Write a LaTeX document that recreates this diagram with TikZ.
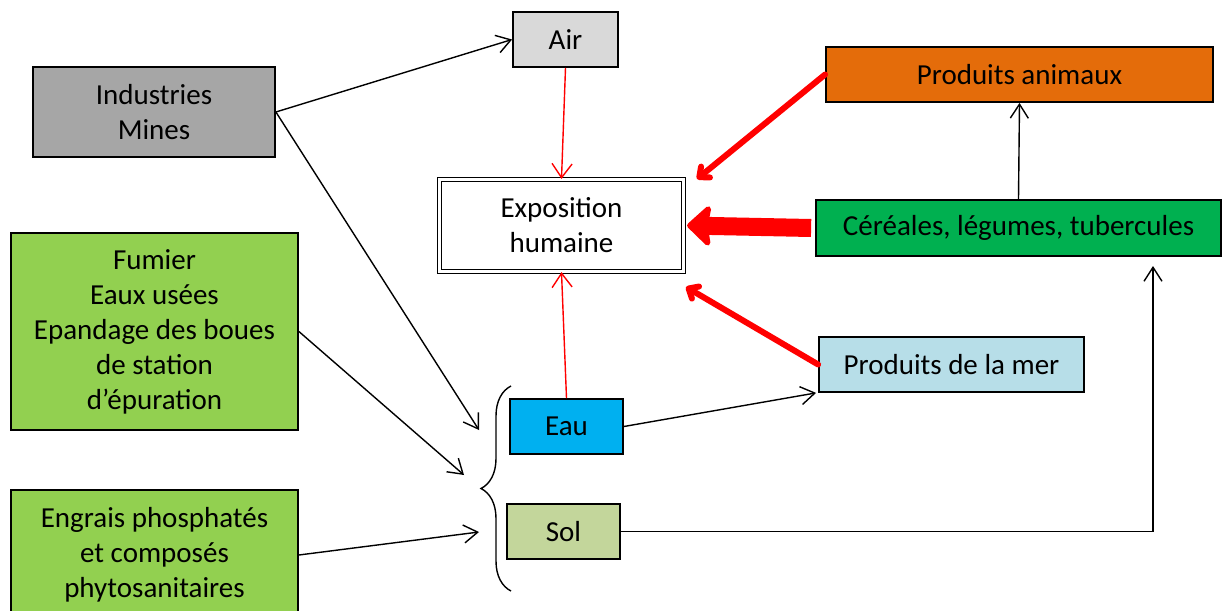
\documentclass[tikz,border=0pt]{standalone}
\usepackage{fontspec}
\setmainfont{Carlito}
\usetikzlibrary{arrows.meta,decorations.pathreplacing}

\definecolor{gris}{HTML}{A6A6A6}
\definecolor{grisclair}{HTML}{D9D9D9}
\definecolor{orange}{HTML}{E46C0A}
\definecolor{vert}{HTML}{00B050}
\definecolor{vertclair}{HTML}{92D050}
\definecolor{bleumer}{HTML}{B7DEE8}
\definecolor{bleu}{HTML}{00B0F0}
\definecolor{olive}{HTML}{C3D69B}
\definecolor{rouge}{HTML}{FF0000}

\tikzset{
  boite/.style={draw, line width=0.9pt, align=center, inner sep=0pt,
    font=\fontsize{14.5}{17.5}\selectfont},
  fleche/.style={line width=0.7pt, -{Straight Barb[length=7pt,width=9pt]}},
  rouge fin/.style={rouge, line width=0.7pt, -{Straight Barb[length=7pt,width=10pt]}},
  rouge gros/.style={rouge, line width=3pt, line cap=round,
    -{Straight Barb[length=4pt,width=7pt,round]}},
  rouge large/.style={rouge, line width=9pt,
    -{Stealth[length=13pt,width=24pt,inset=2pt,round]}}
}

\begin{document}
\begin{tikzpicture}[x=0.5pt, y=-0.5pt]
\useasboundingbox (0,0) rectangle (1222,611);

\node[boite, fill=grisclair, minimum width=52.5pt, minimum height=27.5pt] (air) at (565.5,39.5) {Air};
\node[boite, fill=gris, minimum width=121pt, minimum height=45pt] (industrie) at (154,112) {Industries\\Mines};
\node[boite, fill=orange, minimum width=193.5pt, minimum height=27.5pt] (animaux) at (1019.5,74.5) {Produits animaux};
\node[boite, double, double distance=1.2pt, line width=0.6pt, minimum width=122pt, minimum height=46pt] (expo) at (561.5,225.5) {Exposition\\humaine};
\node[boite, fill=vert, minimum width=202.5pt, minimum height=28pt] (cereales) at (1018.5,228) {Céréales, légumes, tubercules};
\node[boite, fill=vertclair, minimum width=143.5pt, minimum height=98.5pt] (fumier) at (154.5,331.5) {Fumier\\Eaux usées\\Epandage des boues\\de station\\d’épuration};
\node[boite, fill=bleumer, minimum width=132.5pt, minimum height=27.5pt] (mer) at (951.5,364.5) {Produits de la mer};
\node[boite, fill=bleu, minimum width=56.5pt, minimum height=27.5pt] (eau) at (566.5,426.5) {Eau};
\node[boite, fill=olive, minimum width=56.5pt, minimum height=27.5pt] (sol) at (563.5,531.5) {Sol};
\node[boite, fill=vertclair, minimum width=143.5pt, minimum height=65pt] (engrais) at (154.5,555) {Engrais phosphatés\\et composés\\phytosanitaires};

\draw[line width=0.7pt, decorate, decoration={brace, amplitude=15pt}] (511,591) -- (511,386);

\coordinate (p1) at (479,430);
\coordinate (p2) at (464,475);
\coordinate (p3) at (479,532);
\coordinate (p4) at (1153,266);
\coordinate (p5) at (697,179);
\coordinate (p6) at (686,287);

\draw[fleche] (industrie.east) -- (air.west);
\draw[fleche] (industrie.east) -- (p1);
\draw[fleche] (fumier.east) -- (p2);
\draw[fleche] (engrais.east) -- (p3);
\draw[fleche] (eau.east) -- ([xshift=-1pt]mer.south west);
\draw[fleche] (sol.east) -| (p4);
\draw[fleche] (cereales.north) -- (animaux.south);

\draw[rouge fin] (air.south) -- (expo.north);
\draw[rouge fin] (eau.north) -- (expo.south);
\draw[rouge gros] (animaux.west) -- (p5);
\draw[rouge gros] (mer.west) -- (p6);
\draw[rouge large] ([xshift=-2pt]cereales.west) -- ([xshift=1.5pt]expo.east);
\end{tikzpicture}
\end{document}
